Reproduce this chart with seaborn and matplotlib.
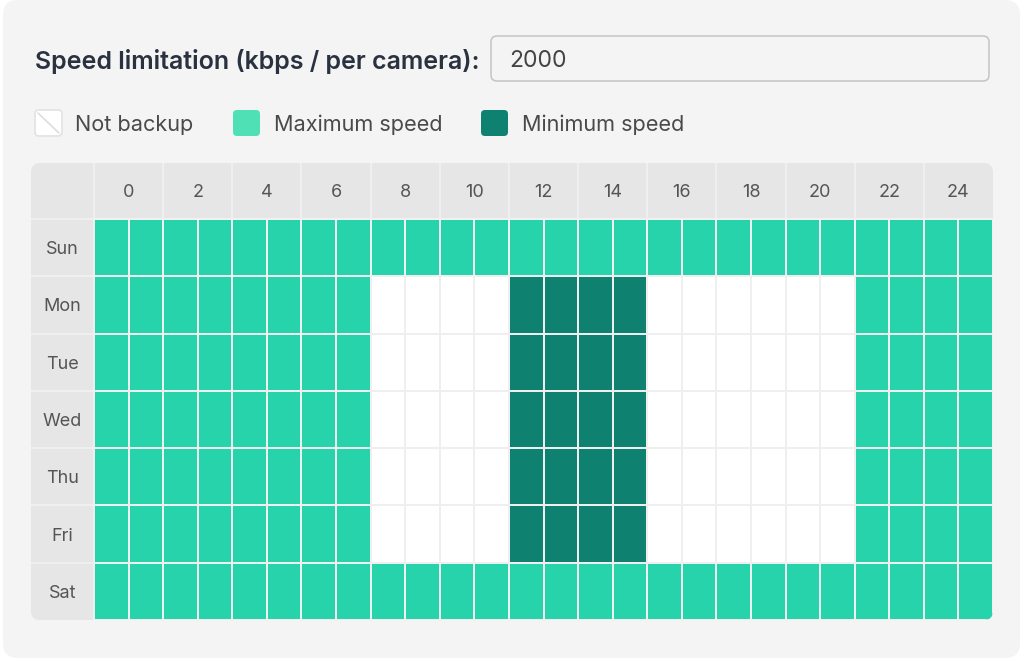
import matplotlib
matplotlib.use("Agg")
import matplotlib.pyplot as plt
import seaborn as sns
import pandas as pd
from matplotlib.colors import ListedColormap
from matplotlib.patches import FancyBboxPatch
from matplotlib.transforms import IdentityTransform

# schedule codes: 0 = not backup, 1 = maximum speed, 2 = minimum speed
days = ["Sun", "Mon", "Tue", "Wed", "Thu", "Fri", "Sat"]
hour_labels = ["0", "2", "4", "6", "8", "10", "12", "14", "16", "18", "20", "22", "24"]
weekend = [1, 1, 1, 1, 1, 1, 1, 1, 1, 1, 1, 1, 1, 1, 1, 1, 1, 1, 1, 1, 1, 1, 1, 1, 1, 1]
weekday = [1, 1, 1, 1, 1, 1, 1, 1, 0, 0, 0, 0, 2, 2, 2, 2, 0, 0, 0, 0, 0, 0, 1, 1, 1, 1]
rows = [weekend, weekday, weekday, weekday, weekday, weekday, weekend]
legend_labels = ["Not backup", "Maximum speed", "Minimum speed"]
speed_limit = "2000"

W, H = 1024, 661
CELL_COLORS = ["#ffffff", "#27d3ab", "#0e8170"]
LEGEND_COLORS = ["#ffffff", "#4fe0b6", "#0e8170"]

sns.set_theme(style="white")
plt.rcParams["font.family"] = ["Inter", "DejaVu Sans"]

fig = plt.figure(figsize=(W / 100, H / 100), dpi=100, facecolor="white")


def fx(x):
    return x / W


def fy(y):
    return 1 - y / H


def px_box(x0, y0, x1, y1, r, **kw):
    # rounded box given in image pixel coords (y down)
    return FancyBboxPatch((x0, H - y1), x1 - x0, y1 - y0,
                          boxstyle=f"round,pad=0,rounding_size={r}",
                          transform=IdentityTransform(), **kw)


# card background
fig.patches.append(px_box(3, 0, 1020, 658, 15, facecolor="#f4f4f4",
                          edgecolor="none", zorder=-5))

# title and input box
fig.text(fx(35), fy(61.5), "Speed limitation (kbps / per camera):", fontsize=18,
         fontweight="semibold", color="#2a3240", va="center", ha="left")
fig.patches.append(px_box(491, 36, 989, 81, 6, facecolor="#f4f4f4",
                          edgecolor="#c4c4c4", linewidth=1.1, zorder=-4))
fig.text(fx(509), fy(61), speed_limit, fontsize=16.5, color="#444444",
         va="center", ha="left")

# legend
icon_x = [35, 233, 481]
text_x = [75, 274, 522]
for lab, col, ix, tx in zip(legend_labels, LEGEND_COLORS, icon_x, text_x):
    edge = "#e2e2e2" if col == "#ffffff" else "none"
    fig.patches.append(px_box(ix, 110, ix + 27, 136, 4, facecolor=col,
                              edgecolor=edge, linewidth=1.2, zorder=-4))
    if col == "#ffffff":
        fig.lines.append(plt.Line2D([ix + 3, ix + 24], [H - 113, H - 133],
                                    transform=IdentityTransform(),
                                    color="#dddddd", linewidth=1.2))
    fig.text(fx(tx), fy(125), lab, fontsize=15.6, color="#4a4a4a",
             va="center", ha="left")

# grid area
gx0, gy0, gx1, gy1 = 31, 163, 993, 620
cx0, cy0 = 94, 219
n_cols = len(weekday)
cell_w = (gx1 - cx0) / n_cols
row_h = (gy1 - cy0) / len(days)
lw_units = (cx0 - gx0) / cell_w
hh_units = (cy0 - gy0) / row_h
text_dy = 2 / row_h  # small downward nudge for label centring

ax = fig.add_axes([fx(gx0), fy(gy1), (gx1 - gx0) / W, (gy1 - gy0) / H])
ax.patch.set_visible(False)

grid_bg = px_box(gx0, gy0, gx1, gy1, 9, facecolor="#e6e6e6", edgecolor="none")
grid_bg.set_zorder(0)
ax.add_patch(grid_bg)
grid_bg.set_clip_on(False)

df = pd.DataFrame(rows, index=days)
sns.heatmap(df, cmap=ListedColormap(CELL_COLORS), vmin=-0.5, vmax=2.5, cbar=False,
            linewidths=1.2, linecolor="#efefef", xticklabels=False,
            yticklabels=False, ax=ax)
mesh = ax.collections[0]
clip = px_box(gx0, gy0, gx1, gy1, 9, facecolor="none", edgecolor="none")
mesh.set_clip_path(clip)

ax.set_xlim(-lw_units, n_cols)
ax.set_ylim(len(days), -hh_units)
ax.axis("off")

# header separators and labels
sep = dict(color="#f2f2f2", linewidth=1.2, zorder=3)
for i, lab in enumerate(hour_labels):
    ax.plot([2 * i, 2 * i], [-hh_units, 0], **sep)
    ax.text(2 * i + 1, -hh_units / 2 + text_dy, lab, ha="center", va="center",
            fontsize=13, color="#555555")
ax.plot([-lw_units, n_cols], [0, 0], **sep)
for r, d in enumerate(days):
    if r > 0:
        ax.plot([-lw_units, 0], [r, r], **sep)
    ax.text(-lw_units / 2, r + 0.5 + text_dy, d, ha="center", va="center",
            fontsize=13, color="#555555")

fig.savefig("out.png", dpi=100, facecolor="white")
